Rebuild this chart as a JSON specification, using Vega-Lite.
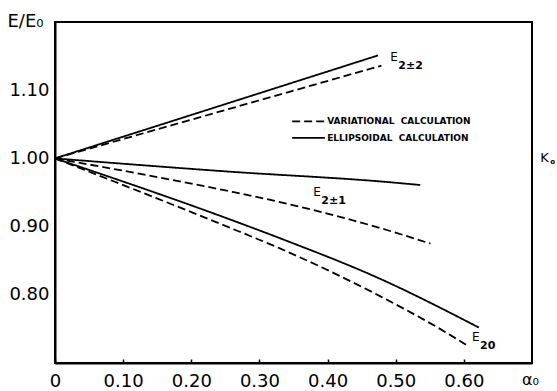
{
  "$schema": "https://vega.github.io/schema/vega-lite/v6.json",
  "width": 477,
  "height": 341,
  "autosize": "none",
  "padding": {"left": 55, "top": 22, "right": 25, "bottom": 28},
  "background": "white",
  "config": {
    "view": {"stroke": "black", "strokeWidth": 2},
    "font": "DejaVu Sans",
    "axis": {"grid": false, "domainColor": "black", "domainWidth": 2, "labelColor": "black", "titleColor": "black", "labelFont": "DejaVu Sans", "titleFont": "DejaVu Sans"}
  },
  "datasets": {
    "curves": [
      {"series": "E2±2 solid", "style": "solid", "a": 0, "e": 1.0},
      {"series": "E2±2 solid", "style": "solid", "a": 0.474, "e": 1.151},
      {"series": "E2±2 dashed", "style": "dashed", "a": 0, "e": 1.0},
      {"series": "E2±2 dashed", "style": "dashed", "a": 0.479, "e": 1.136},
      {"series": "E2±1 solid", "style": "solid", "a": 0, "e": 1.0},
      {"series": "E2±1 solid", "style": "solid", "a": 0.25, "e": 0.981},
      {"series": "E2±1 solid", "style": "solid", "a": 0.492, "e": 0.965},
      {"series": "E2±1 solid", "style": "solid", "a": 0.536, "e": 0.961},
      {"series": "E2±1 dashed", "style": "dashed", "a": 0, "e": 1.0},
      {"series": "E2±1 dashed", "style": "dashed", "a": 0.25, "e": 0.953},
      {"series": "E2±1 dashed", "style": "dashed", "a": 0.33, "e": 0.936},
      {"series": "E2±1 dashed", "style": "dashed", "a": 0.487, "e": 0.895},
      {"series": "E2±1 dashed", "style": "dashed", "a": 0.551, "e": 0.875},
      {"series": "E20 solid", "style": "solid", "a": 0, "e": 1.0},
      {"series": "E20 solid", "style": "solid", "a": 0.25, "e": 0.913},
      {"series": "E20 solid", "style": "solid", "a": 0.33, "e": 0.883},
      {"series": "E20 solid", "style": "solid", "a": 0.477, "e": 0.8235},
      {"series": "E20 solid", "style": "solid", "a": 0.622, "e": 0.752},
      {"series": "E20 dashed", "style": "dashed", "a": 0, "e": 1.0},
      {"series": "E20 dashed", "style": "dashed", "a": 0.25, "e": 0.901},
      {"series": "E20 dashed", "style": "dashed", "a": 0.33, "e": 0.868},
      {"series": "E20 dashed", "style": "dashed", "a": 0.477, "e": 0.798},
      {"series": "E20 dashed", "style": "dashed", "a": 0.565, "e": 0.750},
      {"series": "E20 dashed", "style": "dashed", "a": 0.607, "e": 0.7245},
      {"series": "legend dashed", "style": "dashed", "a": 0.348, "e": 1.0544},
      {"series": "legend dashed", "style": "dashed", "a": 0.396, "e": 1.0544},
      {"series": "legend solid", "style": "solid", "a": 0.348, "e": 1.030},
      {"series": "legend solid", "style": "solid", "a": 0.396, "e": 1.030}
    ],
    "labels": [
      {"main": "E", "sub": "2±2", "a": 0.492, "e": 1.1485},
      {"main": "E", "sub": "2±1", "a": 0.379, "e": 0.951},
      {"main": "E", "sub": "20", "a": 0.612, "e": 0.738}
    ],
    "k": [
      {"main": "K", "sub": "o", "a": 0.712, "e": 1.0}
    ],
    "legendText": [
      {"text": "VARIATIONAL\u00a0\u00a0CALCULATION", "a": 0.3994, "e": 1.0544},
      {"text": "ELLIPSOIDAL\u00a0\u00a0CALCULATION", "a": 0.3994, "e": 1.030}
    ]
  },
  "encoding": {
    "x": {
      "field": "a", "type": "quantitative",
      "scale": {"domain": [0, 0.7], "nice": false, "zero": false},
      "axis": {
        "values": [0, 0.1, 0.2, 0.3, 0.4, 0.5, 0.6],
        "labelExpr": "datum.value == 0 ? '0' : format(datum.value, '.2f')",
        "labelFontSize": 18, "labelPadding": 13, "tickSize": -4, "tickColor": "black", "tickWidth": 1.5,
        "labelFlush": false,
        "title": "α₀", "titleFontSize": 16, "titleFontWeight": "normal",
        "titleX": 475, "titleY": 16, "titleAlign": "center", "titleBaseline": "middle"
      }
    },
    "y": {
      "field": "e", "type": "quantitative",
      "scale": {"domain": [0.70, 1.20], "nice": false, "zero": false},
      "axis": {
        "values": [0.8, 0.9, 1.0, 1.1],
        "format": ".2f",
        "ticks": false, "labelPadding": 6, "labelFontSize": 18,
        "title": "E/E₀", "titleAngle": 0, "titleFontSize": 18, "titleFontWeight": "normal",
        "titleX": -48, "titleY": -1, "titleAlign": "left", "titleBaseline": "middle"
      }
    }
  },
  "layer": [
    {
      "mark": {"type": "rule", "color": "black", "strokeWidth": 2},
      "encoding": {"y": {"datum": 1.0}, "x": {"datum": 0}, "x2": {"datum": 0.7}}
    },
    {
      "data": {"name": "curves"},
      "mark": {"type": "line", "color": "black", "strokeWidth": 1.8, "interpolate": "monotone"},
      "encoding": {
        "detail": {"field": "series"},
        "strokeDash": {
          "field": "style", "type": "nominal",
          "scale": {"domain": ["solid", "dashed"], "range": [[1, 0], [8, 4]]},
          "legend": null
        }
      }
    },
    {
      "data": {"name": "labels"},
      "mark": {"type": "text", "align": "left", "baseline": "middle", "fontSize": 12, "color": "black"},
      "encoding": {"text": {"field": "main"}}
    },
    {
      "data": {"name": "labels"},
      "mark": {"type": "text", "align": "left", "baseline": "middle", "fontSize": 11, "fontWeight": "bold", "letterSpacing": 1, "dx": 8, "dy": 9, "color": "black"},
      "encoding": {"text": {"field": "sub"}}
    },
    {
      "data": {"name": "k"},
      "mark": {"type": "text", "align": "left", "baseline": "middle", "fontSize": 13, "color": "black"},
      "encoding": {"text": {"field": "main"}}
    },
    {
      "data": {"name": "k"},
      "mark": {"type": "text", "align": "left", "baseline": "middle", "fontSize": 7, "fontWeight": "bold", "dx": 10, "dy": 4, "color": "black"},
      "encoding": {"text": {"field": "sub"}}
    },
    {
      "data": {"name": "legendText"},
      "mark": {"type": "text", "align": "left", "baseline": "middle", "fontSize": 9, "fontWeight": "bold", "letterSpacing": 1.9, "color": "black"},
      "encoding": {"text": {"field": "text"}}
    }
  ]
}
